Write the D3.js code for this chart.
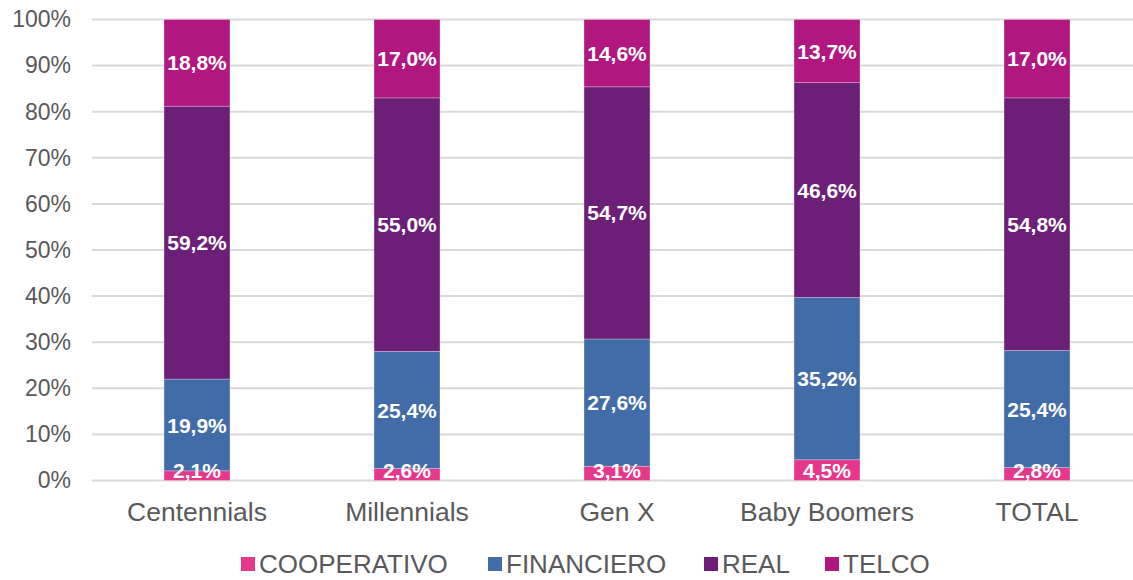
<!DOCTYPE html>
<html>
<head>
<meta charset="utf-8">
<script src="https://cdn.jsdelivr.net/npm/d3@7"></script>
<style>
  body { margin: 0; background: #fff; }
  svg { display: block; font-family: "Liberation Sans", Arial, sans-serif; }
</style>
</head>
<body>
<div id="chart"></div>
<script>
// datos (porcentajes)
var categories = ["Centennials", "Millennials", "Gen X", "Baby Boomers", "TOTAL"];
var seriesNames = ["COOPERATIVO", "FINANCIERO", "REAL", "TELCO"];
var cooperativo = [2.1, 2.6, 3.1, 4.5, 2.8];
var financiero = [19.9, 25.4, 27.6, 35.2, 25.4];
var real = [59.2, 55.0, 54.7, 46.6, 54.8];
var telco = [18.8, 17.0, 14.6, 13.7, 17.0];
var yTicks = [0, 10, 20, 30, 40, 50, 60, 70, 80, 90, 100];

var colors = ["#E5388A", "#426CA8", "#6C1F77", "#B1177F"];

var W = 1133, H = 580;
var margin = {left: 92, right: -9, top: 19.5, bottom: 99.5};

var svg = d3.select("#chart").append("svg")
  .attr("width", W).attr("height", H);

var x = d3.scaleBand()
  .domain(categories)
  .range([margin.left, W - margin.right])
  .paddingInner(0.686).paddingOuter(0.343);

var y = d3.scaleLinear()
  .domain([0, 100])
  .range([H - margin.bottom, margin.top]);

// rejilla
svg.append("g").selectAll("line")
  .data(yTicks).enter().append("line")
  .attr("x1", margin.left).attr("x2", W)
  .attr("y1", function(d){ return y(d); })
  .attr("y2", function(d){ return y(d); })
  .style("stroke", "#d9d9d9")
  .style("stroke-width", 2);

// eje y
var yAxis = svg.append("g")
  .attr("transform", "translate(" + margin.left + ",0)")
  .call(d3.axisLeft(y).tickValues(yTicks).tickSize(0).tickPadding(21)
    .tickFormat(function(d){ return d + "%"; }));
yAxis.select(".domain").remove();
yAxis.selectAll("text")
  .style("font-size", "23px")
  .style("fill", "#595959")
  .style("font-family", "Liberation Sans, Arial, sans-serif");

// eje x
var xAxis = svg.append("g")
  .attr("transform", "translate(0," + (H - margin.bottom) + ")")
  .call(d3.axisBottom(x).tickSize(0).tickPadding(22));
xAxis.select(".domain").remove();
xAxis.selectAll("text")
  .style("font-size", "26.5px")
  .style("fill", "#595959")
  .style("font-family", "Liberation Sans, Arial, sans-serif");

// apilar
var rows = categories.map(function(c, i){
  return {cat: c, COOPERATIVO: cooperativo[i], FINANCIERO: financiero[i], REAL: real[i], TELCO: telco[i]};
});
var stacked = d3.stack().keys(seriesNames)(rows);

var layers = svg.selectAll(".serie")
  .data(stacked).enter().append("g")
  .attr("class", "serie")
  .style("fill", function(d, i){ return colors[i]; });

layers.selectAll("rect")
  .data(function(d){ return d; }).enter().append("rect")
  .attr("x", function(d){ return x(d.data.cat); })
  .attr("width", x.bandwidth())
  .attr("y", function(d){ return y(d[1]); })
  .attr("height", function(d){ return y(d[0]) - y(d[1]); })
  .style("stroke", "rgba(255,255,255,0.35)")
  .style("stroke-width", 0.75);

// etiquetas (encima de todas las barras)
var fmt = function(v){ return v.toFixed(1).replace(".", ",") + "%"; };
var labels = svg.append("g").selectAll("g")
  .data(stacked).enter().append("g");
labels.selectAll("text")
  .data(function(d){ return d; }).enter().append("text")
  .attr("x", function(d){ return x(d.data.cat) + x.bandwidth() / 2; })
  .attr("y", function(d){ return Math.min((y(d[0]) + y(d[1])) / 2, y(0) - 10.5); })
  .attr("dy", "0.36em")
  .attr("text-anchor", "middle")
  .style("fill", "#fff")
  .style("font-size", "21px")
  .style("font-weight", "bold")
  .text(function(d){ return fmt(d[1] - d[0]); });

// leyenda
var legendX = [241, 488, 704, 825];
var legend = svg.append("g").selectAll("g")
  .data(seriesNames).enter().append("g")
  .attr("transform", function(d, i){ return "translate(" + legendX[i] + ",557)"; });
legend.append("rect")
  .attr("width", 14).attr("height", 14)
  .style("fill", function(d, i){ return colors[i]; });
legend.append("text")
  .attr("x", 18).attr("y", 7).attr("dy", "0.36em")
  .style("font-size", "26px")
  .style("fill", "#595959")
  .text(function(d){ return d; });
</script>
</body>
</html>
